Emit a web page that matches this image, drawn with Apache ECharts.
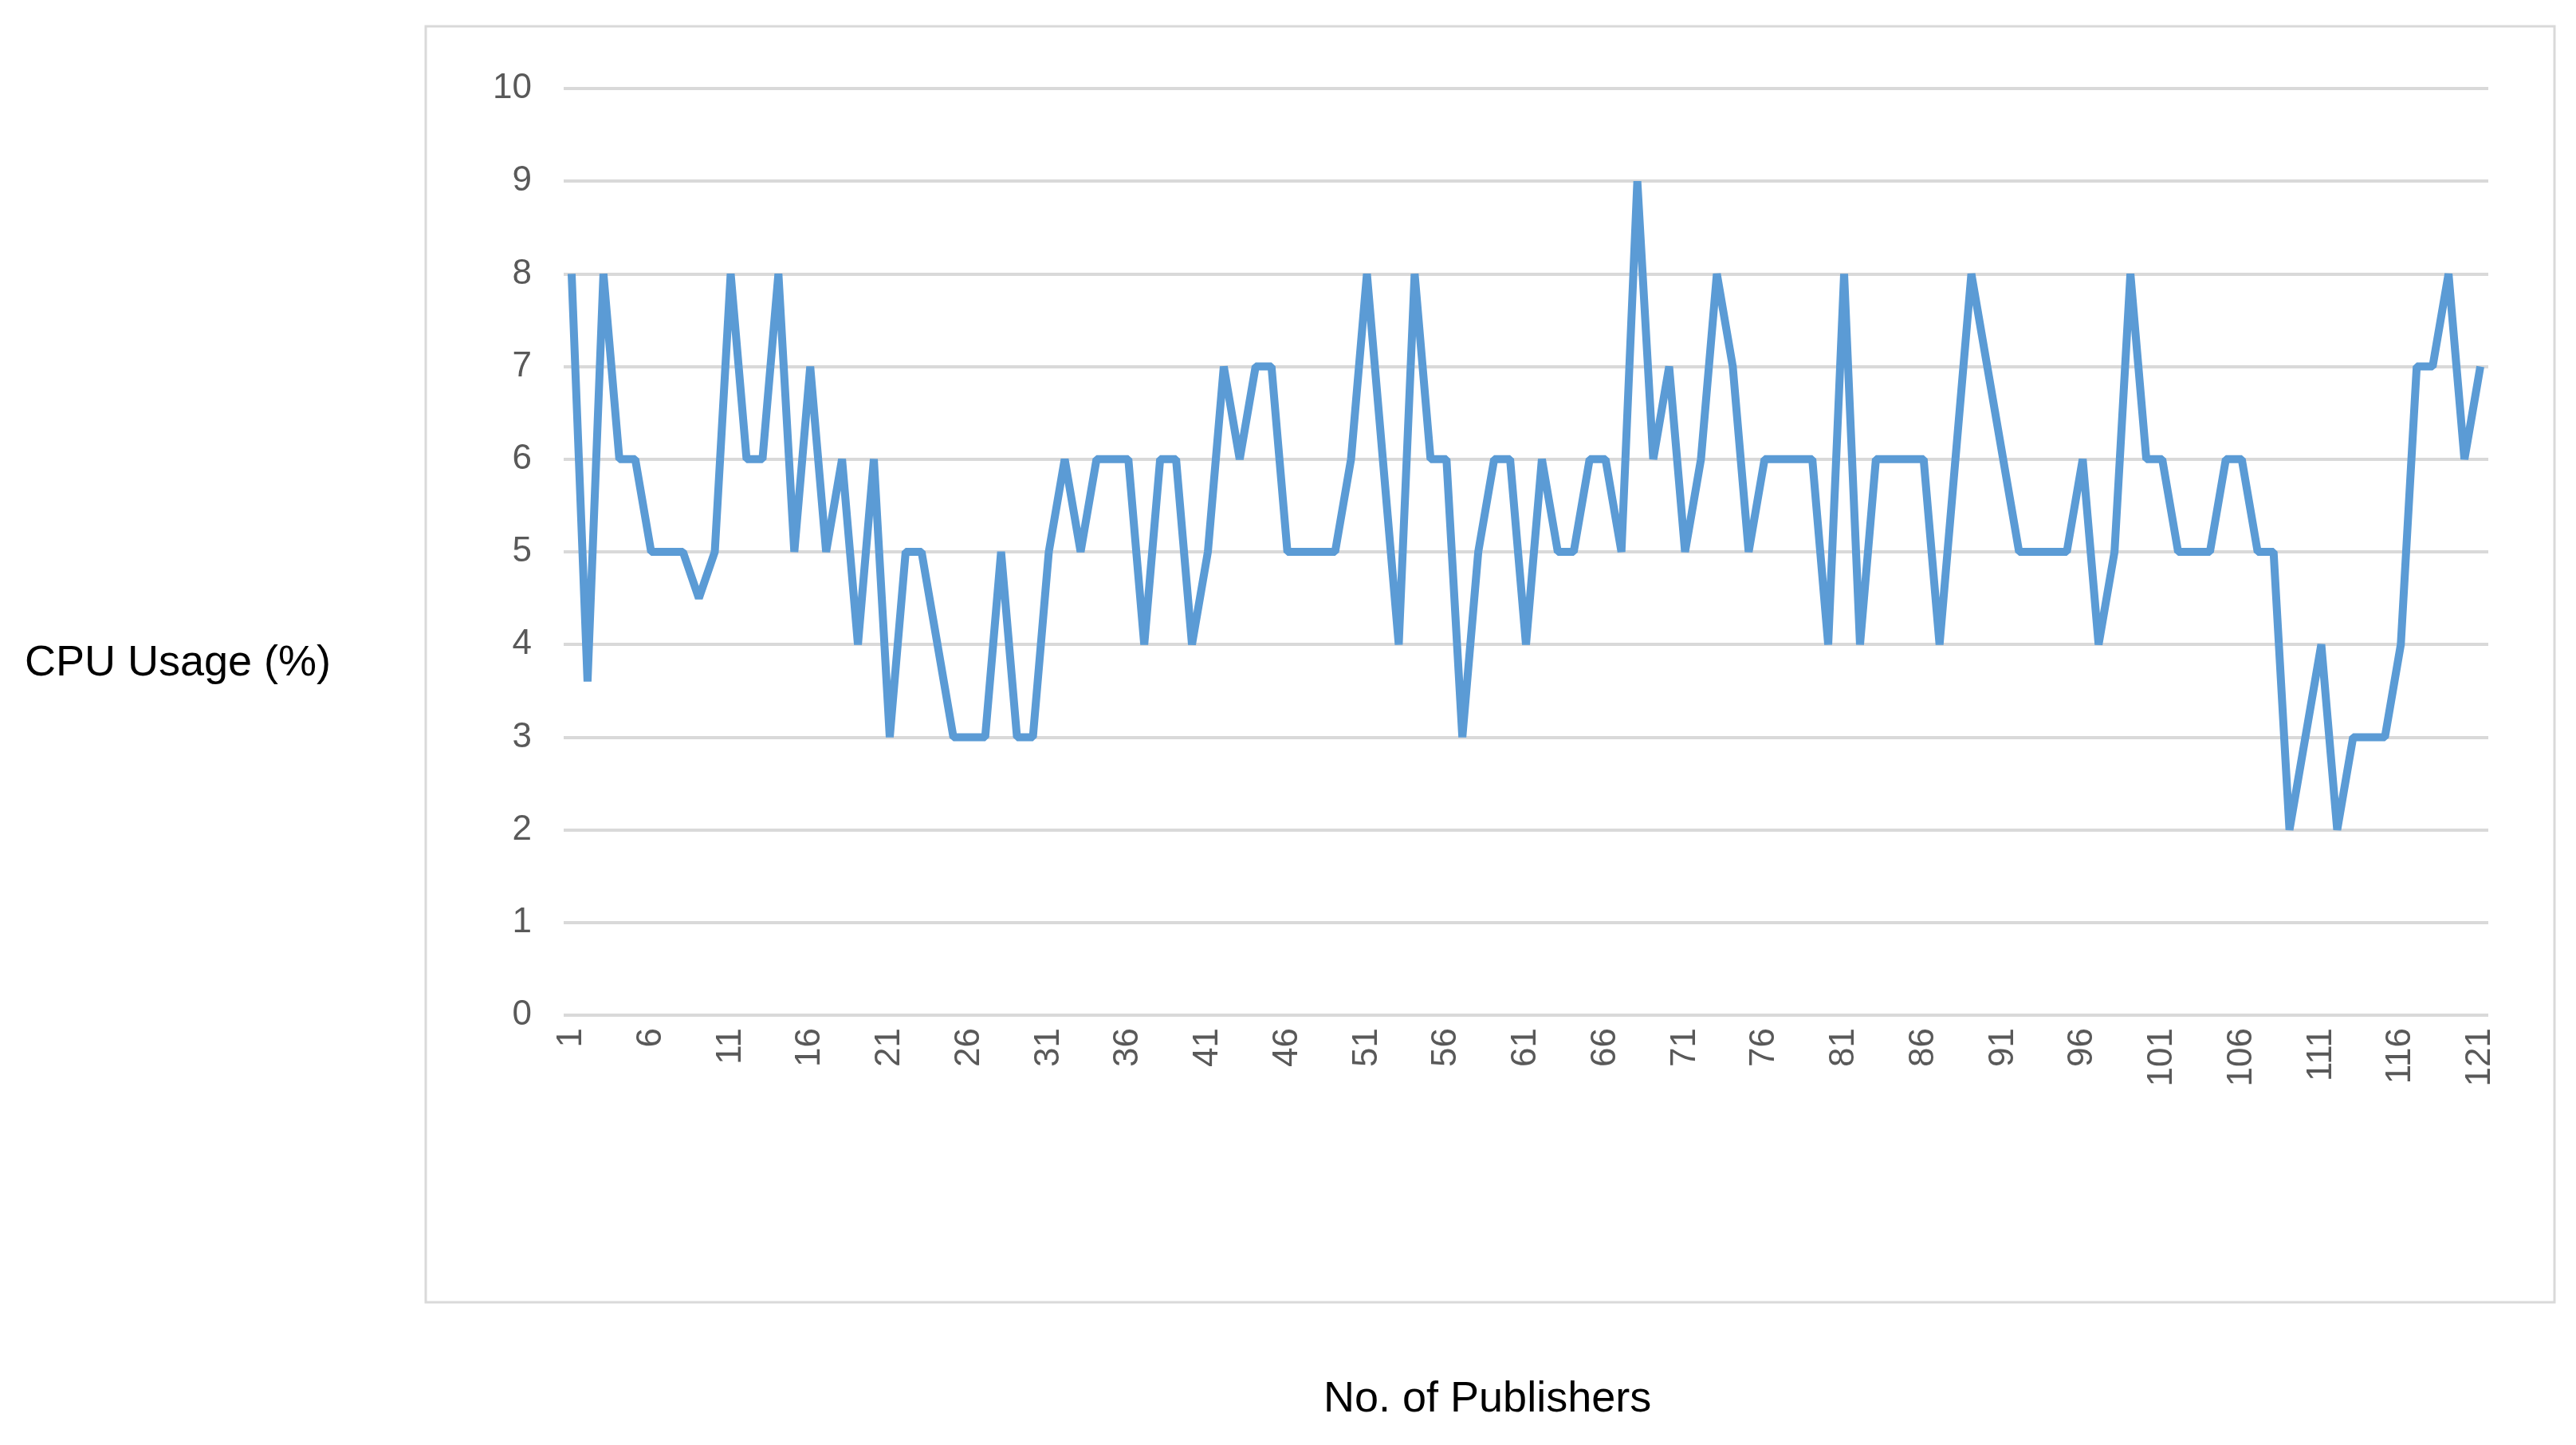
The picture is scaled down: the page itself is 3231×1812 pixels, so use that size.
<!DOCTYPE html>
<html><head><meta charset="utf-8">
<script src="https://cdn.jsdelivr.net/npm/echarts@6/dist/echarts.min.js"></script>
<style>html,body{margin:0;background:#fff}#c{width:3231px;height:1812px}</style>
</head><body><div id="c"></div>
<script>
const categories = Array.from({length:121},(_,i)=>String(i+1));
const cpuUsage = [8,3.6,8,6,6,5,5,5,4.5,5,8,6,6,8,5,7,5,6,4,6,3,5,5,4,3,3,3,5,3,3,
5,6,5,6,6,6,4,6,6,4,5,7,6,7,7,5,5,5,5,6,8,6,4,8,6,6,3,5,6,6,
4,6,5,5,6,6,5,9,6,7,5,6,8,7,5,6,6,6,6,4,8,4,6,6,6,6,4,6,8,7,
6,5,5,5,5,6,4,5,8,6,6,5,5,5,6,6,5,5,2,3,4,2,3,3,3,4,7,7,8,6,7];
const yTicks = [0,10,1];
const chart = echarts.init(document.getElementById('c'));
chart.setOption({
  animation:false,
  grid:{left:707,right:110,top:111,bottom:539},
  xAxis:{type:'category',data:categories,boundaryGap:true,
    axisLine:{show:false},axisTick:{show:false},
    axisLabel:{interval:4,rotate:90,color:'#595959',fontSize:44,fontFamily:'Liberation Sans',margin:16}},
  yAxis:{type:'value',min:yTicks[0],max:yTicks[1],interval:yTicks[2],
    axisLine:{show:false},axisTick:{show:false},
    splitLine:{lineStyle:{color:'#d9d9d9',width:4}},
    axisLabel:{color:'#595959',fontSize:44,fontFamily:'Liberation Sans',margin:40}},
  series:[{type:'line',data:cpuUsage,symbol:'none',lineStyle:{color:'#5B9BD5',width:10}}],
  graphic:[
    {type:'rect',shape:{x:534,y:33,width:2670,height:1600},style:{fill:'none',stroke:'#d9d9d9',lineWidth:3},z:-1},
    {type:'text',left:31,top:805,style:{text:'CPU Usage (%)',font:'54px "Liberation Sans"',fill:'#000'}},
    {type:'text',left:1660,top:1728,style:{text:'No. of Publishers',font:'54px "Liberation Sans"',fill:'#000'}}
  ]
});
</script></body></html>
